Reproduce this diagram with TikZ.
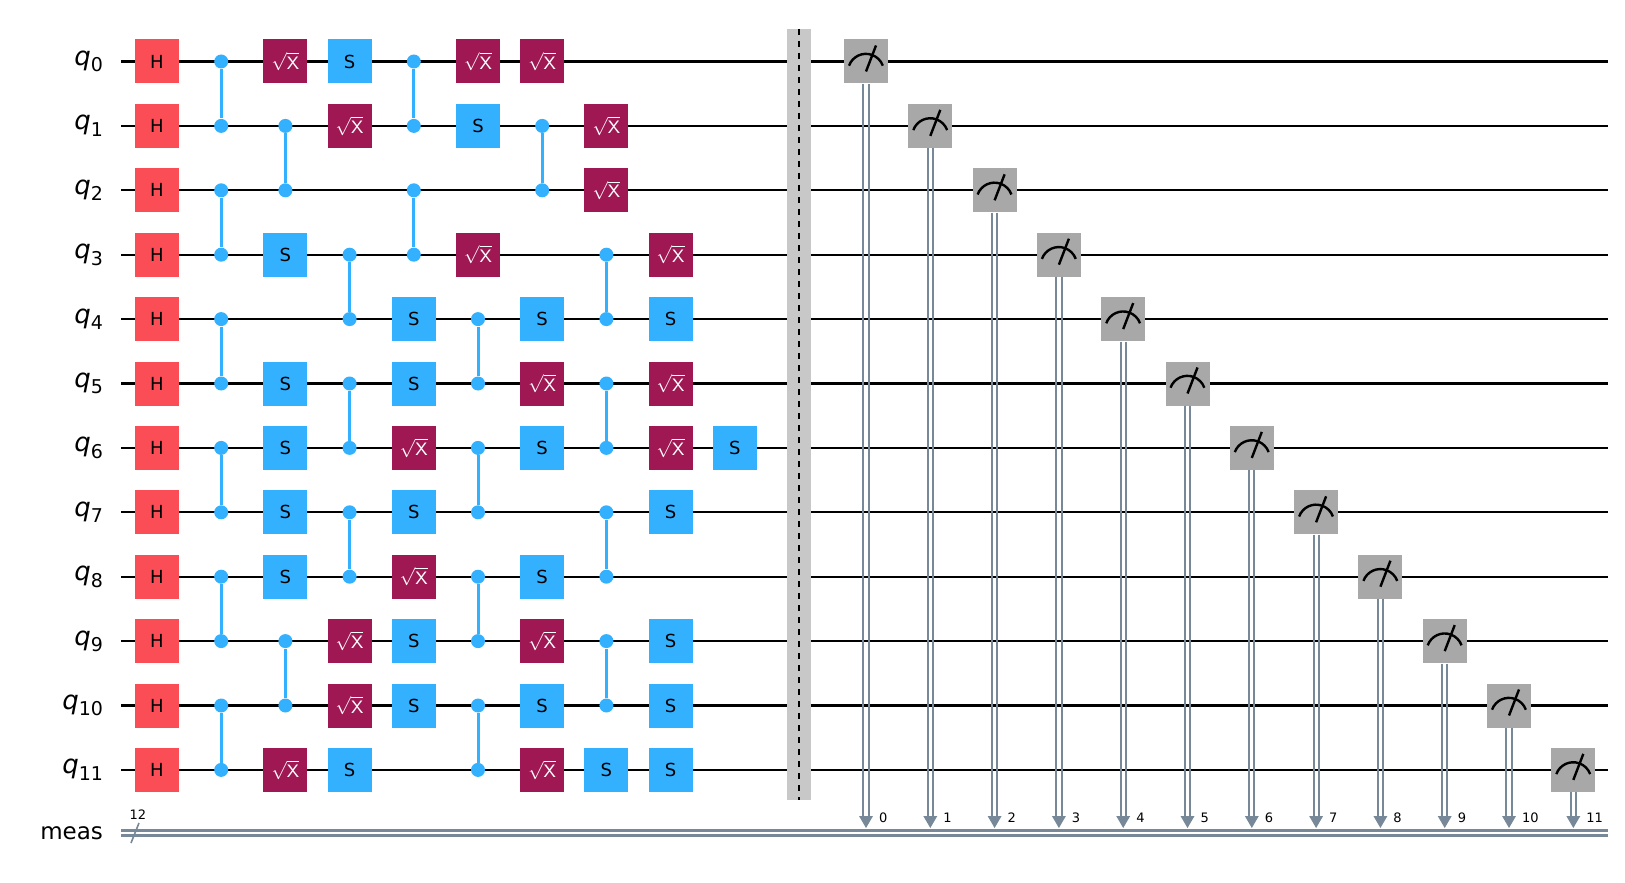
\documentclass[tikz,border=0pt]{standalone}
\usepackage{fontspec}
\setmainfont{DejaVu Sans}
\begin{document}
\definecolor{hcol}{HTML}{FA4D56}
\definecolor{sxcol}{HTML}{9F1853}
\definecolor{scol}{HTML}{33B1FF}
\definecolor{mcol}{HTML}{A8A8A8}
\definecolor{ccol}{HTML}{778899}
\definecolor{bcol}{HTML}{C8C8C8}
\begin{tikzpicture}[x=0.5pt,y=-0.5pt,
  gate/.style={minimum width=22pt,minimum height=22pt,inner sep=0,font=\fontsize{9}{9}\selectfont},
  H/.style={gate,fill=hcol,text=black},
  SX/.style={gate,fill=sxcol,text=white},
  S/.style={gate,fill=scol,text=black},
  M/.style={gate,fill=mcol},
  dot/.style={circle,fill=scol,inner sep=0,minimum size=7pt},
  wire/.style={line width=1.1pt,black},
  lbl/.style={anchor=east,font=\fontsize{13}{13}\selectfont}]
\useasboundingbox (0,0) rectangle (1625,882);
\def\X#1{157+64.2*#1}
\def\Y#1{61.5+64.4*#1}
% wires and labels
\foreach \i in {0,...,11}{
  \draw[wire] (121,{\Y{\i}}) -- (1608,{\Y{\i}});
  \node[lbl] (l\i) at (110,{\Y{\i}}) {\textit{q}\raisebox{-0.45ex}{\fontsize{9.5}{9.5}\selectfont\i}};
}
\node[lbl,font=\fontsize{11.5}{11.5}\selectfont] (lm) at (110,833) {meas};
\draw[ccol,line width=1.1pt] (121,830.5) -- (1608,830.5) (121,835.5) -- (1608,835.5);
\draw[ccol,line width=0.8pt] (131,843) -- (139,823);
\node[font=\fontsize{6.5}{6.5}\selectfont] (n12) at (138,815) {12};
% barrier
\fill[bcol] (787,29) rectangle (811,800);
\draw[dashed,line width=0.6pt] (799,29) -- (799,800);
% cz gates
\foreach \c/\a/\b in {1/0/1,1/2/3,1/4/5,1/6/7,1/8/9,1/10/11,
  2/1/2,2/9/10,3/3/4,3/5/6,3/7/8,4/0/1,4/2/3,
  5/4/5,5/6/7,5/8/9,5/10/11,6/1/2,7/3/4,7/5/6,7/7/8,7/9/10}{
  \node[dot] (d\c a\a) at ({\X{\c}},{\Y{\a}}) {};
  \node[dot] (d\c b\b) at ({\X{\c}},{\Y{\b}}) {};
  \draw[scol,line width=1.5pt] (d\c a\a) -- (d\c b\b);
}
% single gates
\foreach \i in {0,...,11}{\node[H] (h\i) at ({\X{0}},{\Y{\i}}) {H};}
\foreach \c/\i in {2/0,2/11,3/1,3/9,3/10,4/6,4/8,5/0,5/3,6/0,6/5,6/9,6/11,7/1,7/2,8/3,8/5,8/6}{
  \node[SX] (sx\c-\i) at ({\X{\c}},{\Y{\i}}) {$\sqrt{\textsf{X}}$};}
\foreach \c/\i in {2/3,2/5,2/6,2/7,2/8,3/0,3/11,4/4,4/5,4/7,4/9,4/10,5/1,6/4,6/6,6/8,6/10,7/11,8/4,8/7,8/9,8/10,8/11,9/6}{
  \node[S] (s\c-\i) at ({\X{\c}},{\Y{\i}}) {S};}
% measures
\foreach \k in {0,...,11}{
  \node[M] (m\k) at ({866+64.3*\k},{\Y{\k}}) {};
  \coordinate (e\k) at ({866+64.3*\k},828);
  \draw[ccol,line width=1pt] ([xshift=-1.3pt]m\k.south) -- ([xshift=-1.3pt]e\k|-0,820);
  \draw[ccol,line width=1pt] ([xshift=1.3pt]m\k.south) -- ([xshift=1.3pt]e\k|-0,820);
  \fill[ccol] ([xshift=-3.5pt]e\k|-0,816) -- ([xshift=3.5pt]e\k|-0,816) -- (e\k) -- cycle;
  \draw[line width=1.2pt] ([shift={(-8.5pt,-2.1pt)}]m\k.center) arc[start angle=160,end angle=20,radius=9pt];
  \draw[line width=1.2pt] ([yshift=-5pt]m\k.center) -- ([shift={(5pt,8pt)}]m\k.center);
  \node[anchor=west,font=\fontsize{6.5}{6.5}\selectfont] (ml\k) at ([xshift=3pt]e\k|-0,818) {\k};
}
\end{tikzpicture}
\end{document}
